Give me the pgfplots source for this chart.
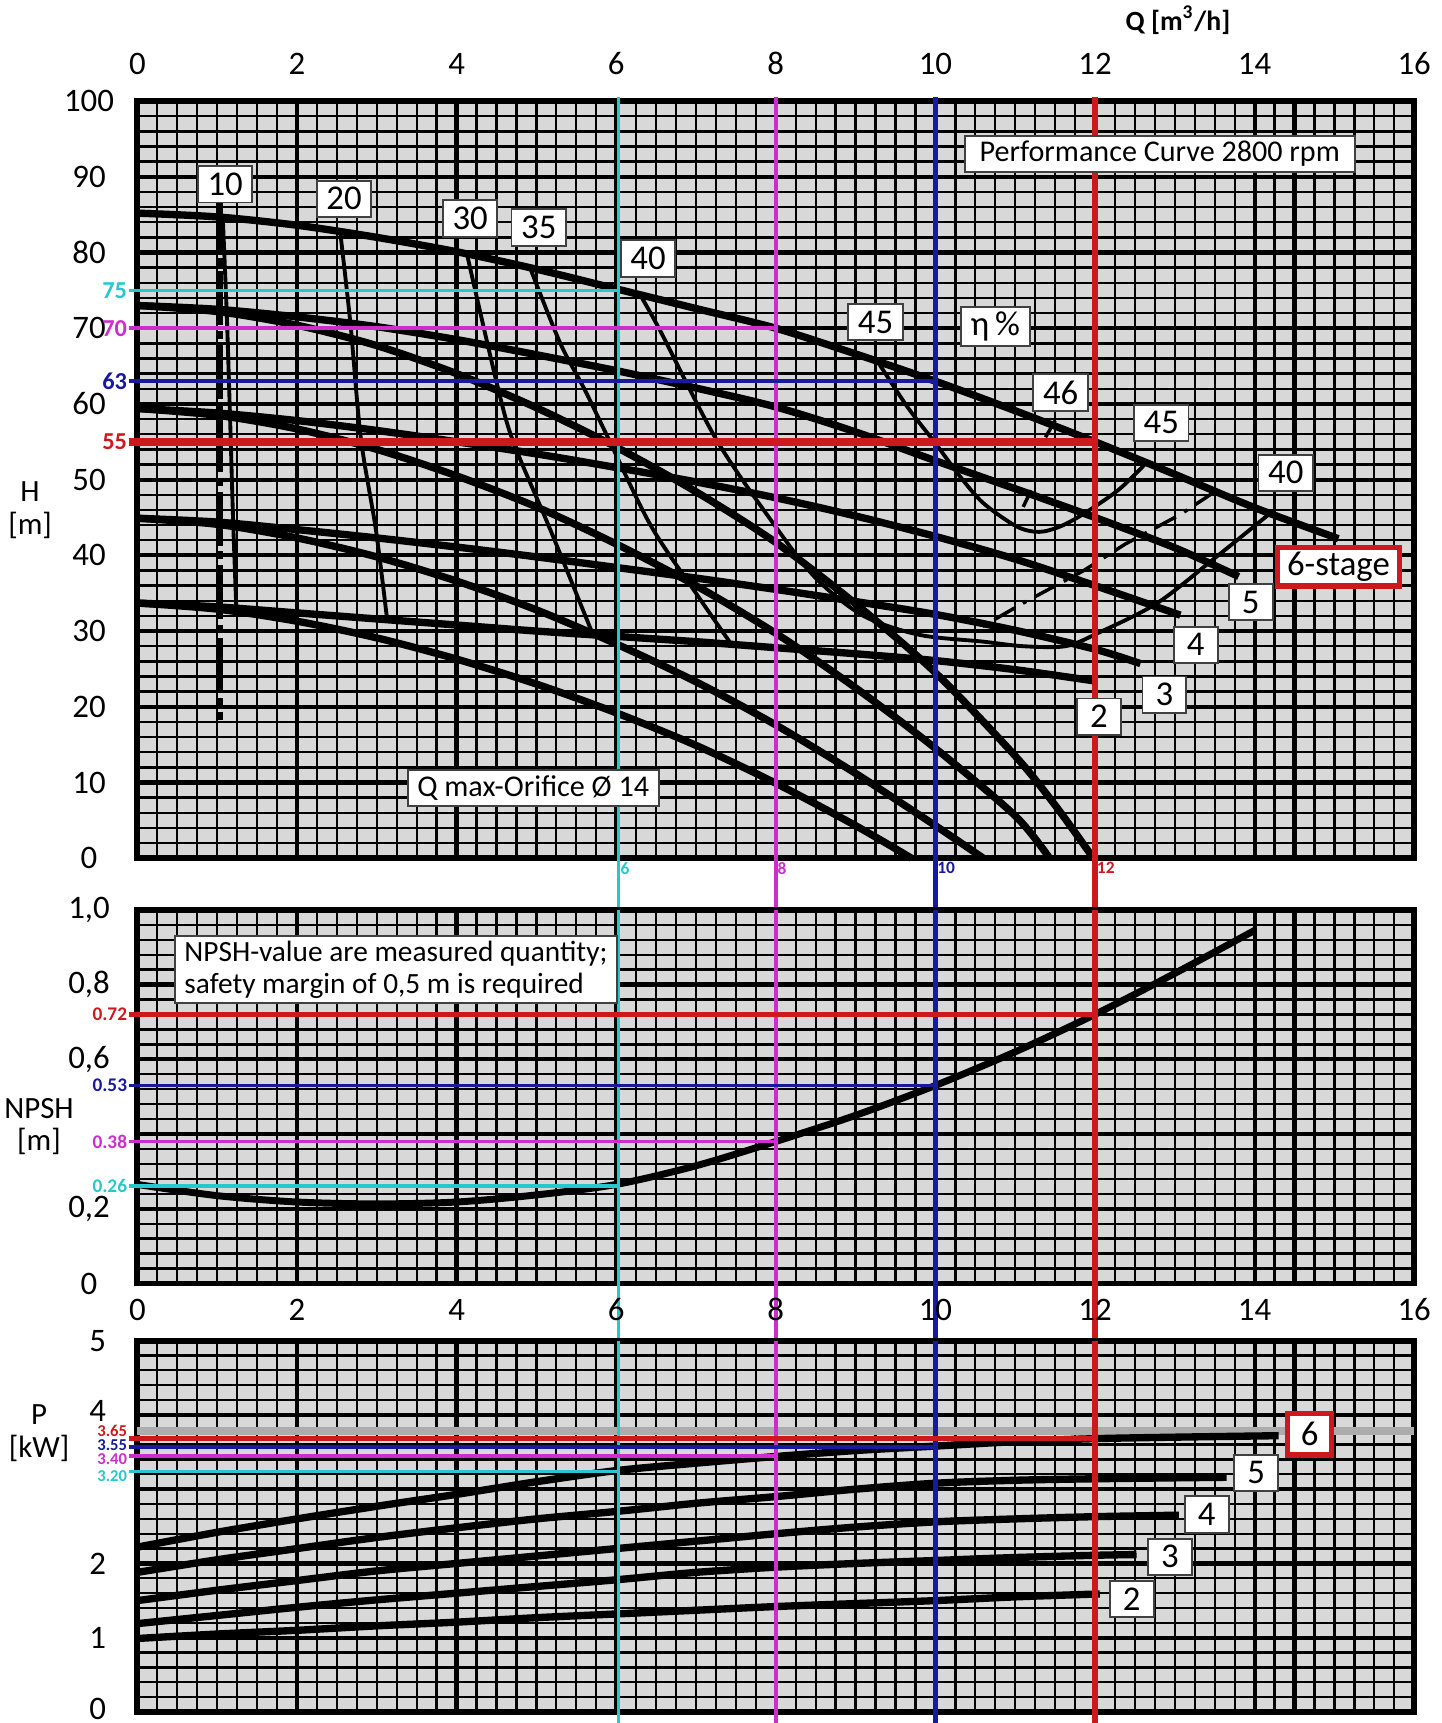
\documentclass[border=0pt]{standalone}
\usepackage{fontspec}
\setmainfont{Carlito}
\usepackage{pgfplots}
\pgfplotsset{compat=1.18}
\definecolor{cyn}{RGB}{38,200,205}
\definecolor{mag}{RGB}{205,45,205}
\definecolor{blu}{RGB}{25,25,160}
\definecolor{red2}{RGB}{205,25,30}
\definecolor{bgc}{RGB}{216,216,216}
\pgfplotsset{
  panel/.style={scale only axis, width=116.2mm, xmin=0, xmax=16,
    xtick={0,2,4,6,8,10,12,14,16}, minor x tick num=7,
    grid=both,
    major grid style={black, line width=1.1pt},
    minor grid style={black, line width=0.6pt},
    axis line style={black, line width=1.5pt},
    major tick length=0pt, minor tick length=0pt,
    axis background/.style={fill=bgc},
    ticklabel style={font=\fontsize{8.5}{9}\selectfont},
    clip=false},
}
\tikzset{
  lbl/.style={draw=black!75, line width=0.5pt, fill=white, inner xsep=2.5pt, inner ysep=1.2pt, minimum width=4mm, minimum height=3.3mm, font=\fontsize{9}{9}\selectfont},
  stg/.style={black, line width=1.9pt, smooth},
  eff/.style={black, line width=1pt, smooth},
  clab/.style={font=\fontsize{6.3}{6.3}\selectfont\bfseries, anchor=east, inner sep=0.4pt},
  vlab/.style={font=\fontsize{4.5}{4.5}\selectfont\bfseries, anchor=north west, inner sep=0.3pt},
}
\begin{document}
\begin{tikzpicture}
\useasboundingbox (-12.5mm,-78.7mm) rectangle (118.7mm,78.1mm);
% ================= H panel =================
\begin{axis}[panel, at={(0mm,0mm)}, anchor=south west, height=68.9mm,
  ymin=0, ymax=100, ytick={0,10,20,30,40,50,60,70,80,90,100}, minor y tick num=4,
  xticklabel pos=upper, xticklabels={0,2,4,6,8,10,12,14,16},
  yticklabels={0,10,20,30,40,50,60,70,80,90,100},
  yticklabel style={anchor=center, xshift=-4.4mm},
  xticklabel style={yshift=1.2mm}]
% efficiency lines
\addplot[eff] coordinates {(1.07,84.7)(1.12,72)(1.16,58.8)(1.2,44.6)(1.24,33.1)};
\addplot[eff] coordinates {(2.54,82.9)(2.67,70.6)(2.8,55.5)(2.99,43.3)(3.13,31.5)};
\addplot[eff] coordinates {(4.13,79.8)(4.5,62.9)(4.71,55)(5.17,43.5)(5.71,29.5)};
\addplot[eff] coordinates {(4.92,78)(5.3,68)(5.6,62)(5.89,55.7)(6.43,44)(7.0,35)(7.44,28.3)};
\addplot[eff] coordinates {(6.3,74.4)(6.55,69.7)(7.26,55.2)(7.97,44.2)(8.5,37)(9.1,32)(9.8,29.5)(10.6,28.6)(11.1,28)(11.63,28)(12.03,29.7)(12.78,33.7)(13.52,39.8)(14.2,45.6)};
\addplot[eff] coordinates {(9.27,65.7)(9.65,59.6)(10,54.8)(10.31,50.4)(10.6,46.9)(11.02,43.8)(11.3,43.1)(11.56,43.8)(11.86,45.5)(12.3,48.7)(12.65,52.3)};
\addplot[black, line width=0.9pt, dash pattern=on 6pt off 2.5pt on 1pt off 2.5pt] coordinates {(13.5,48.4)(13.07,45.4)(12.38,41.5)(11.86,38)(11.1,33.7)(10.59,30.6)};
\addplot[black, line width=0.9pt] coordinates {(11.38,55.6)(11.5,57.8)};
\addplot[black, line width=0.9pt] coordinates {(11.1,46.4)(11.2,48.6)};
% Q min
\addplot[black, line width=1.8pt, dash pattern=on 14pt off 1.5pt on 2pt off 1.5pt] coordinates {(1.03,87.2)(1.03,18.3)};
% stage curves (regular)
\addplot[stg] coordinates {(0,85.2)(1,84.7)(2,83.6)(3,82)(4,80.1)(5,77.8)(6,75.2)(7,72.6)(8,70)(9,66.6)(10,63)(11,59.1)(12,55)(13,50.7)(14,46.3)(15.05,42.2)};
\addplot[stg] coordinates {(0,73)(1,72.5)(2,71.5)(3,70.2)(4,68.5)(5,66.5)(6,64.4)(7,62.1)(8,59.6)(9,56.3)(10,52.5)(11,48.8)(12,45)(13,41)(13.8,37.2)};
\addplot[stg] coordinates {(0,59.4)(1,58.8)(2,57.8)(3,56.5)(4,55)(5,53.4)(6,51.6)(7,49.7)(8,47.6)(9,45.2)(10,42.5)(11,39.5)(12,36)(13.07,32.1)};
\addplot[stg] coordinates {(0,44.9)(1,44.4)(2,43.4)(3,42.3)(4,41.1)(5,39.8)(6,38.4)(7,37)(8,35.5)(9,33.9)(10,32.2)(11,30.1)(12,27.6)(12.57,25.7)};
\addplot[stg] coordinates {(0,33.7)(1,33.2)(2,32.4)(3,31.6)(4,30.8)(5,30)(6,29.3)(7,28.6)(8,27.8)(9,27)(10,26.1)(11,24.9)(12,23.4)};
% orifice curves
\addplot[stg] coordinates {(0,33.7)(1,32.9)(2,31.3)(3,29.1)(4,26.3)(5,23)(6,19.2)(7,14.9)(8,9.9)(9,4.3)(9.7,0)};
\addplot[stg] coordinates {(0,44.9)(1,44.1)(2,42.3)(3,39.8)(4,36.6)(5,32.8)(6,28.3)(7,23.3)(8,17.6)(9,11.2)(10,4.3)(10.6,0)};
\addplot[stg] coordinates {(0,59.4)(1,58.5)(2,56.7)(3,54)(4,50.5)(5,46.4)(6,41.5)(7,36)(8,29.7)(9,22.5)(10,14.5)(11,5.6)(11.43,0)};
\addplot[stg] coordinates {(0,73)(1,72.2)(2,70.4)(3,67.7)(4,64)(5,59.5)(6,54.3)(7,48.4)(8,41.7)(9,33.6)(10,24.5)(11,13.5)(11.5,7)(11.98,0)};
% thick vertical
\addplot[black, line width=1.5pt] coordinates {(14.5,0)(14.5,100)};
% reference lines
\addplot[cyn, line width=0.8pt] coordinates {(6.03,100.6)(6.03,-6.8)};
\addplot[mag, line width=1pt] coordinates {(8,100.6)(8,-6.8)};
\addplot[blu, line width=1.2pt] coordinates {(10,100.6)(10,-6.8)};
\addplot[red2, line width=1.6pt] coordinates {(12,100.6)(12,-6.8)};
\addplot[cyn, line width=0.8pt] coordinates {(-0.1,75)(6.03,75)};
\addplot[mag, line width=1pt] coordinates {(-0.1,70)(8,70)};
\addplot[blu, line width=0.9pt] coordinates {(-0.1,63)(10,63)};
\addplot[red2, line width=2pt] coordinates {(-0.1,55)(12,55)};
\node[clab, text=cyn] at (axis cs:-0.1,75) {75};
\node[clab, text=mag] at (axis cs:-0.1,70) {70};
\node[clab, text=blu] at (axis cs:-0.1,63) {63};
\node[clab, text=red2] at (axis cs:-0.1,55) {55};
\node[vlab, text=cyn] at (axis cs:6.03,-0.3) {6};
\node[vlab, text=mag] at (axis cs:8,-0.3) {8};
\node[vlab, text=blu] at (axis cs:10,-0.3) {10};
\node[vlab, text=red2] at (axis cs:12,-0.3) {12};
% labels
\node[lbl] at (axis cs:1.10,89.0) {10};
\node[lbl] at (axis cs:2.59,87.1) {20};
\node[lbl] at (axis cs:4.17,84.5) {30};
\node[lbl] at (axis cs:5.03,83.3) {35};
\node[lbl] at (axis cs:6.40,79.2) {40};
\node[lbl] at (axis cs:9.25,70.8) {45};
\node[lbl] at (axis cs:10.75,70.2) {η\,\%};
\node[lbl] at (axis cs:11.57,61.5) {46};
\node[lbl] at (axis cs:12.83,57.5) {45};
\node[lbl] at (axis cs:14.39,50.9) {40};
\node[lbl, draw=red2, line width=1.4pt, minimum width=10.5mm] at (axis cs:15.05,38.5) {6-stage};
\node[lbl] at (axis cs:13.95,33.8) {5};
\node[lbl] at (axis cs:13.26,28.2) {4};
\node[lbl] at (axis cs:12.87,21.6) {3};
\node[lbl] at (axis cs:12.05,18.7) {2};
\node[lbl, font=\fontsize{7.8}{8}\selectfont, minimum width=35.5mm] at (axis cs:12.81,93.0) {Performance Curve 2800 rpm};
\node[lbl, font=\fontsize{7.8}{8}\selectfont, minimum width=22.4mm] at (axis cs:4.96,9.3) {Q max-Orifice Ø 14};
\node[align=center, font=\fontsize{8}{8.5}\selectfont] at (rel axis cs:-0.084,0.46) {H\\{}[m]};
\node[font=\fontsize{7.2}{8}\selectfont\bfseries] at (rel axis cs:0.815,1.107) {Q [m\textsuperscript{3}/h]};
\end{axis}
% ================= NPSH panel =================
\begin{axis}[panel, at={(0mm,-38.7mm)}, anchor=south west, height=34.0mm,
  ymin=0, ymax=1, ytick={0,0.2,0.4,0.6,0.8,1}, minor y tick num=4,
  yticklabels={0,{0,2},,{0,6},{0,8},{1,0}}, xticklabels={},
  yticklabel style={anchor=center, xshift=-4.4mm}]
\addplot[black, line width=1.8pt, smooth] coordinates {(0,0.265)(1,0.235)(2,0.218)(3,0.213)(4,0.218)(5,0.237)(6,0.265)(7,0.315)(8,0.38)(9,0.45)(10,0.53)(11,0.62)(12,0.72)(13,0.83)(14,0.945)};
\addplot[black, line width=1.5pt] coordinates {(14.5,0)(14.5,1)};
\addplot[cyn, line width=0.8pt] coordinates {(6.03,1)(6.03,-0.153)};
\addplot[mag, line width=1pt] coordinates {(8,1)(8,-0.153)};
\addplot[blu, line width=1.2pt] coordinates {(10,1)(10,-0.153)};
\addplot[red2, line width=1.6pt] coordinates {(12,1)(12,-0.153)};
\addplot[red2, line width=1.2pt] coordinates {(-0.1,0.72)(12,0.72)};
\addplot[blu, line width=0.8pt] coordinates {(-0.1,0.53)(10,0.53)};
\addplot[mag, line width=1pt] coordinates {(-0.1,0.38)(8,0.38)};
\addplot[cyn, line width=1pt] coordinates {(-0.1,0.26)(6.03,0.26)};
\node[clab, font=\fontsize{5}{5}\selectfont\bfseries, text=red2] at (axis cs:-0.1,0.72) {0.72};
\node[clab, font=\fontsize{5}{5}\selectfont\bfseries, text=blu] at (axis cs:-0.1,0.53) {0.53};
\node[clab, font=\fontsize{5}{5}\selectfont\bfseries, text=mag] at (axis cs:-0.1,0.38) {0.38};
\node[clab, font=\fontsize{5}{5}\selectfont\bfseries, text=cyn] at (axis cs:-0.1,0.26) {0.26};
\node[lbl, align=left, font=\fontsize{7.6}{8.4}\selectfont, minimum width=40mm] at (axis cs:3.24,0.84) {NPSH-value are measured quantity;\\ safety margin of 0,5 m is required};
\node[align=center, font=\fontsize{8}{8.5}\selectfont] at (rel axis cs:-0.077,0.42) {NPSH\\{}[m]};
\end{axis}
% ================= P panel =================
\begin{axis}[panel, at={(0mm,-77.7mm)}, anchor=south west, height=33.8mm,
  ymin=0, ymax=5, ytick={0,1,2,3,4,5}, minor y tick num=4,
  yticklabels={\raisebox{0.6mm}{0},1,2,,\raisebox{0.8mm}{4},5},
  yticklabel style={anchor=center, xshift=-3.6mm},
  xticklabel pos=upper, xticklabels={0,2,4,6,8,10,12,14,16},
  xticklabel style={yshift=0.6mm}]
\addplot[gray!65, line width=2pt] coordinates {(0,3.78)(16,3.78)};
\addplot[stg] coordinates {(0,2.22)(1,2.42)(2,2.6)(3,2.77)(4,2.93)(5,3.1)(6,3.25)(7,3.35)(8,3.44)(9,3.52)(10,3.58)(11,3.64)(12,3.68)(13,3.7)(14.3,3.72)};
\addplot[stg] coordinates {(0,1.88)(1,2.05)(2,2.2)(3,2.35)(4,2.48)(5,2.6)(6,2.7)(7,2.81)(8,2.9)(9,3.0)(10,3.08)(11,3.12)(12,3.14)(13.65,3.16)};
\addplot[stg] coordinates {(0,1.5)(1,1.64)(2,1.77)(3,1.9)(4,2.0)(5,2.1)(6,2.2)(7,2.3)(8,2.4)(9,2.49)(10,2.56)(11,2.6)(12,2.63)(13.05,2.65)};
\addplot[stg] coordinates {(0,1.19)(1,1.3)(2,1.41)(3,1.51)(4,1.6)(5,1.69)(6,1.78)(7,1.88)(8,1.95)(9,2.0)(10,2.04)(11,2.08)(12,2.11)(12.52,2.12)};
\addplot[stg] coordinates {(0,0.99)(1,1.05)(2,1.1)(3,1.16)(4,1.21)(5,1.27)(6,1.32)(7,1.37)(8,1.42)(9,1.46)(10,1.5)(11,1.55)(12.06,1.59)};
\addplot[black, line width=1.5pt] coordinates {(14.5,0)(14.5,5)};
\addplot[cyn, line width=0.8pt] coordinates {(6.03,5)(6.03,-0.15)};
\addplot[mag, line width=1pt] coordinates {(8,5)(8,-0.15)};
\addplot[blu, line width=1.2pt] coordinates {(10,5)(10,-0.15)};
\addplot[red2, line width=1.6pt] coordinates {(12,5)(12,-0.15)};
\addplot[red2, line width=1.4pt] coordinates {(-0.1,3.68)(12,3.68)};
\addplot[blu, line width=0.9pt] coordinates {(-0.1,3.57)(10,3.57)};
\addplot[mag, line width=1pt] coordinates {(-0.1,3.45)(8,3.45)};
\addplot[cyn, line width=0.9pt] coordinates {(-0.1,3.24)(6.03,3.24)};
\node[clab, font=\fontsize{4.3}{4.3}\selectfont\bfseries, text=red2] at (axis cs:-0.1,3.79) {3.65};
\node[clab, font=\fontsize{4.3}{4.3}\selectfont\bfseries, text=blu] at (axis cs:-0.1,3.59) {3.55};
\node[clab, font=\fontsize{4.3}{4.3}\selectfont\bfseries, text=mag] at (axis cs:-0.1,3.40) {3.40};
\node[clab, font=\fontsize{4.3}{4.3}\selectfont\bfseries, text=cyn] at (axis cs:-0.1,3.18) {3.20};
\node[lbl, draw=red2, line width=1.4pt, minimum height=3.8mm] at (axis cs:14.69,3.74) {6};
\node[lbl] at (axis cs:14.02,3.22) {5};
\node[lbl] at (axis cs:13.40,2.66) {4};
\node[lbl] at (axis cs:12.94,2.09) {3};
\node[lbl] at (axis cs:12.46,1.52) {2};
\node[align=center, font=\fontsize{8}{8.5}\selectfont] at (rel axis cs:-0.077,0.75) {P\\{}[kW]};
\end{axis}
\end{tikzpicture}
\end{document}
